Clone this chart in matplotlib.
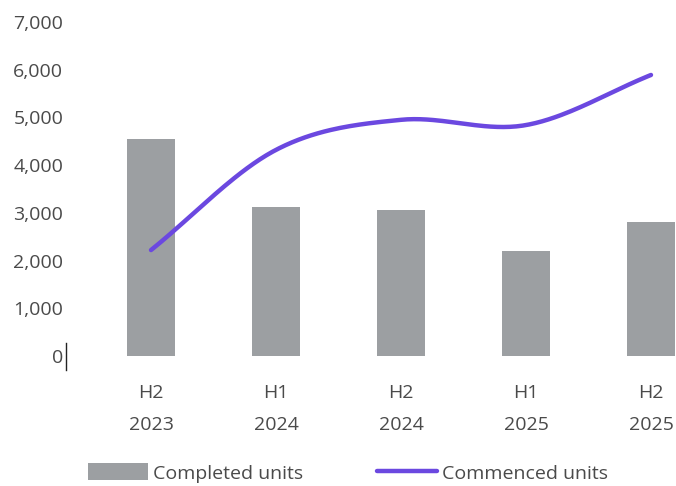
import numpy as np
import matplotlib
matplotlib.use("Agg")
import matplotlib.pyplot as plt
from matplotlib.lines import Line2D

plt.rcParams['font.family'] = ['Open Sans', 'DejaVu Sans']

periods = ["H2\n2023", "H1\n2024", "H2\n2024", "H1\n2025", "H2\n2025"]
completed = [4550, 3120, 3060, 2200, 2810]
commenced = [2220, 4320, 4950, 4840, 5890]

bar_col = "#9c9fa2"
line_col = "#6b48e0"
txt_col = "#4a4a4a"


def smooth(xs, ys, n=40):
    # catmull-rom, like a spreadsheet "smoothed line"
    xs = np.asarray(xs, float)
    ys = np.asarray(ys, float)
    px = np.concatenate([[2 * xs[0] - xs[1]], xs, [2 * xs[-1] - xs[-2]]])
    py = np.concatenate([[2 * ys[0] - ys[1]], ys, [2 * ys[-1] - ys[-2]]])
    ox, oy = [], []
    for i in range(1, len(px) - 2):
        t = np.linspace(0, 1, n)
        for p, o in ((px, ox), (py, oy)):
            p0, p1, p2, p3 = p[i - 1], p[i], p[i + 1], p[i + 2]
            o.extend(0.5 * (2 * p1 + (-p0 + p2) * t + (2 * p0 - 5 * p1 + 4 * p2 - p3) * t ** 2
                            + (-p0 + 3 * p1 - 3 * p2 + p3) * t ** 3))
    return ox, oy


fig = plt.figure(figsize=(6.76, 4.86), dpi=100)
ax = fig.add_axes([66 / 676, 1 - 356 / 486, 610 / 676, 334 / 486])

x = np.arange(len(periods))
ax.bar(x, completed, width=0.39, color=bar_col, label="Completed units", zorder=2)
sx, sy = smooth(x, commenced)
ax.plot(sx, sy, color=line_col, lw=3.2, solid_capstyle="round", label="Commenced units", zorder=3)

ax.set_xlim(-0.68, 4.2)
ax.set_ylim(0, 7000)
ax.set_yticks(range(0, 7001, 1000))
ax.set_yticklabels([f"{v:,}" for v in range(0, 7001, 1000)])
ax.set_xticks(x)
ax.set_xticklabels(periods, linespacing=2.0)
ax.tick_params(axis="both", length=0, labelsize=14, colors=txt_col)
ax.tick_params(axis="y", pad=2)
ax.tick_params(axis="x", pad=20)
for s in ax.spines.values():
    s.set_visible(False)

fig.add_artist(Line2D([66 / 676, 66 / 676], [1 - 370 / 486, 1 - 343 / 486], color="#222222", lw=1))

h, l = ax.get_legend_handles_labels()
ax.legend(h[::-1], l[::-1], loc="center left", bbox_to_anchor=(88 / 676, 1 - 473 / 486),
          bbox_transform=fig.transFigure, ncol=2, frameon=False, fontsize=14,
          handlelength=3.1, handleheight=0.95, handletextpad=0.25,
          columnspacing=3.8, labelcolor=txt_col, borderaxespad=0, borderpad=0)

fig.savefig("out.png", dpi=100)
